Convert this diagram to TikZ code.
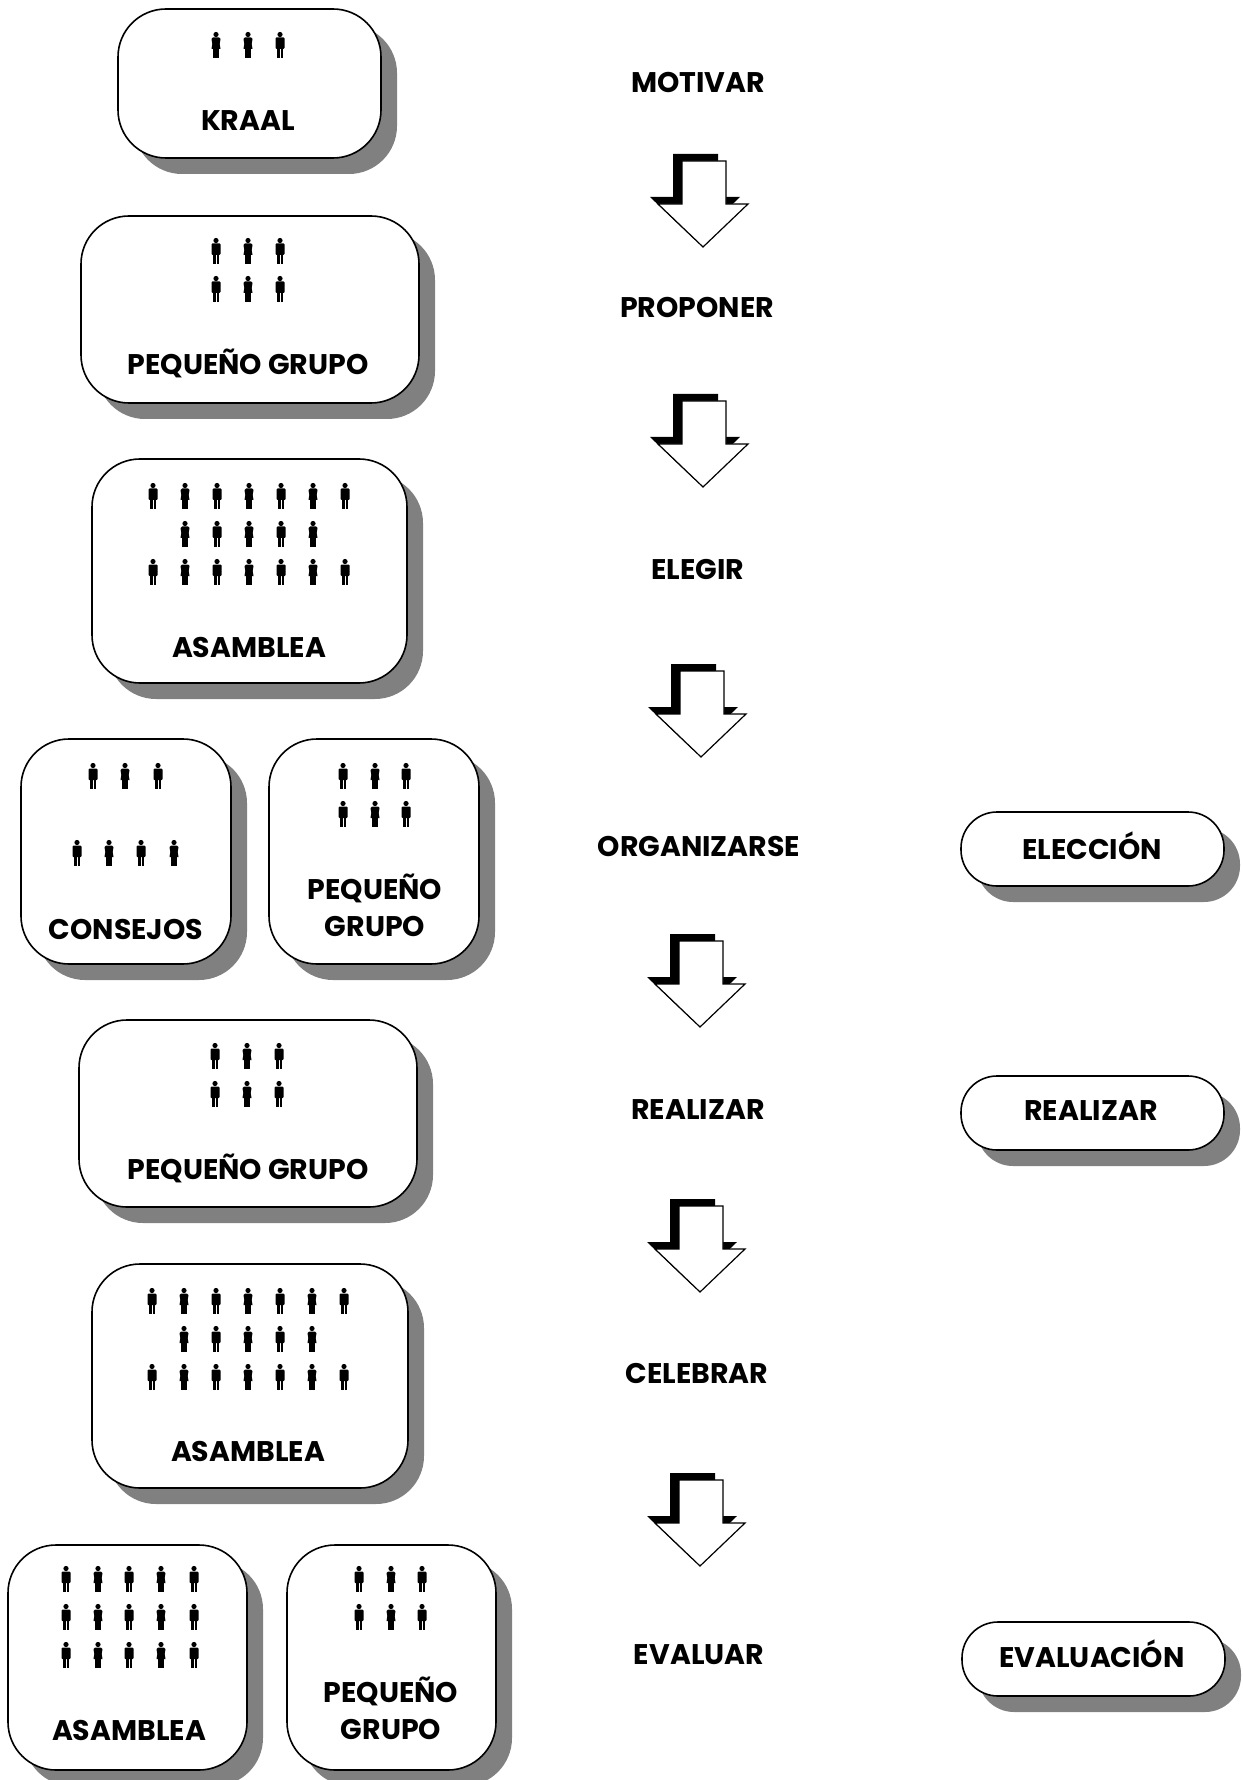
\documentclass[tikz,border=0pt]{standalone}
\usepackage{fontspec}
\setmainfont{Poppins}[BoldFont={* Bold}]
\definecolor{sombra}{gray}{0.5}
\newcommand{\caja}[5][24pt]{
    \fill[sombra,rounded corners=#1] (#2+16,#3+16) rectangle (#4+16,#5+16);
    \draw[thick,fill=white,rounded corners=#1] (#2,#3) rectangle (#4,#5);
}
\newcommand{\flecha}[2]{
    \fill[black,shift={(#1-8,#2-7)}] (-22,-86) -- (23,-86) -- (23,-43) -- (45,-43) -- (0,0) -- (-45,-43) -- (-22,-43) -- cycle;
    \draw[line width=.6pt,fill=white,shift={(#1,#2)}] (-21,-86) -- (23,-86) -- (23,-43) -- (45,-43) -- (0,0) -- (-45,-43) -- (-21,-43) -- cycle;
}
\tikzset{
    rotulo/.style={font=\fontsize{14.2}{18.2}\selectfont\bfseries,align=center,inner sep=0pt,yshift=-.2pt},
    hombre/.pic={
        \fill (0,-10.5) circle (2.6);
        \fill[rounded corners=.5pt] (-4.5,-7.5) rectangle (4.5,4);
        \fill (-3,3) rectangle (-.5,13);
        \fill (.5,3) rectangle (3,13);
    },
    mujer/.pic={
        \fill (0,-10.5) circle (2.6);
        \fill (-3,-7.5) -- (3,-7.5) -- (4.5,-6) -- (3.7,-1) -- (4.5,4) -- (-4.5,4) -- (-3.7,-1) -- (-4.5,-6) -- cycle;
        \fill (-2.7,3) rectangle (-.4,13);
        \fill (.4,3) rectangle (2.7,13);
    }
}
\begin{document}
\begin{tikzpicture}[x=0.5pt,y=-0.5pt]
    \useasboundingbox (0,0) rectangle (1242,1780);
    % cajas
    \caja{118}{9}{381}{158}
    \caja{81}{216}{419}{403}
    \caja{92}{459}{407}{683}
    \caja{21}{739}{231}{964}
    \caja{269}{739}{479}{964}
    \caja{79}{1020}{417}{1207}
    \caja{92}{1264}{408}{1488}
    \caja{8}{1545}{247}{1770}
    \caja{287}{1545}{496}{1770}
    \caja[18pt]{961}{812}{1224}{886}
    \caja[18pt]{961}{1076}{1224}{1150}
    \caja[18pt]{962}{1622}{1225}{1696}
    % personas
    \foreach \x/\y/\t in {216/45/mujer,248/45/mujer,280/45/hombre,
                          216/251/hombre,248/251/mujer,280/251/hombre,216/289/hombre,248/289/mujer,280/289/hombre,
                          215/1056/hombre,247/1056/mujer,279/1056/hombre,215/1094/hombre,247/1094/mujer,279/1094/hombre,
                          93/776/hombre,125/776/mujer,158/776/hombre,77/853/hombre,109/853/mujer,141/853/hombre,174/853/mujer,
                          343/776/hombre,375/776/mujer,406/776/hombre,343/814/hombre,375/814/mujer,406/814/hombre,
                          359/1579/hombre,391/1579/mujer,422/1579/hombre,359/1617/hombre,391/1617/mujer,422/1617/hombre}
        {\pic at (\x,\y) {\t};}
    \foreach \y in {496,572} {
        \foreach \x/\t in {153/hombre,185/mujer,217/hombre,249/mujer,281/hombre,313/mujer,345/hombre} {\pic at (\x,\y) {\t};}
    }
    \foreach \x/\t in {185/mujer,217/hombre,249/mujer,281/hombre,313/mujer} {\pic at (\x,534) {\t};}
    \foreach \y in {1301,1377} {
        \foreach \x/\t in {152/hombre,184/mujer,216/hombre,248/mujer,280/hombre,312/mujer,344/hombre} {\pic at (\x,\y) {\t};}
    }
    \foreach \x/\t in {184/mujer,216/hombre,248/mujer,280/hombre,312/mujer} {\pic at (\x,1339) {\t};}
    \foreach \y in {1579,1617,1655} {
        \foreach \x/\t in {66/hombre,98/mujer,129/hombre,161/mujer,194/hombre} {\pic at (\x,\y) {\t};}
    }
    % rotulos de las cajas
    \node[rotulo] (kraal) at (248,120) {KRAAL};
    \node[rotulo] (grupoa) at (248,363) {PEQUEÑO GRUPO};
    \node[rotulo] (asambleaa) at (249,647) {ASAMBLEA};
    \node[rotulo] (consejos) at (126,929) {CONSEJOS};
    \node[rotulo] (grupob) at (375,905) {PEQUEÑO\\GRUPO};
    \node[rotulo] (grupoc) at (248,1168) {PEQUEÑO GRUPO};
    \node[rotulo] (asambleab) at (248,1451) {ASAMBLEA};
    \node[rotulo] (asambleac) at (129,1730) {ASAMBLEA};
    \node[rotulo] (grupod) at (391,1708) {PEQUEÑO\\GRUPO};
    \node[rotulo] (eleccion) at (1092,845) {ELECCIÓN};
    \node[rotulo] (realizarb) at (1091,1110) {REALIZAR};
    \node[rotulo] (evaluacion) at (1092,1653) {EVALUACIÓN};
    % pasos
    \node[rotulo] (motivar) at (698,82) {MOTIVAR};
    \node[rotulo] (proponer) at (697,307) {PROPONER};
    \node[rotulo] (elegir) at (698,569) {ELEGIR};
    \node[rotulo] (organizarse) at (699,846) {ORGANIZARSE};
    \node[rotulo] (realizara) at (698,1109) {REALIZAR};
    \node[rotulo] (celebrar) at (697,1373) {CELEBRAR};
    \node[rotulo] (evaluar) at (699,1654) {EVALUAR};
    % flechas
    \flecha{703}{247}
    \flecha{703}{487}
    \flecha{701}{757}
    \flecha{700}{1027}
    \flecha{700}{1292}
    \flecha{700}{1566}
\end{tikzpicture}
\end{document}
